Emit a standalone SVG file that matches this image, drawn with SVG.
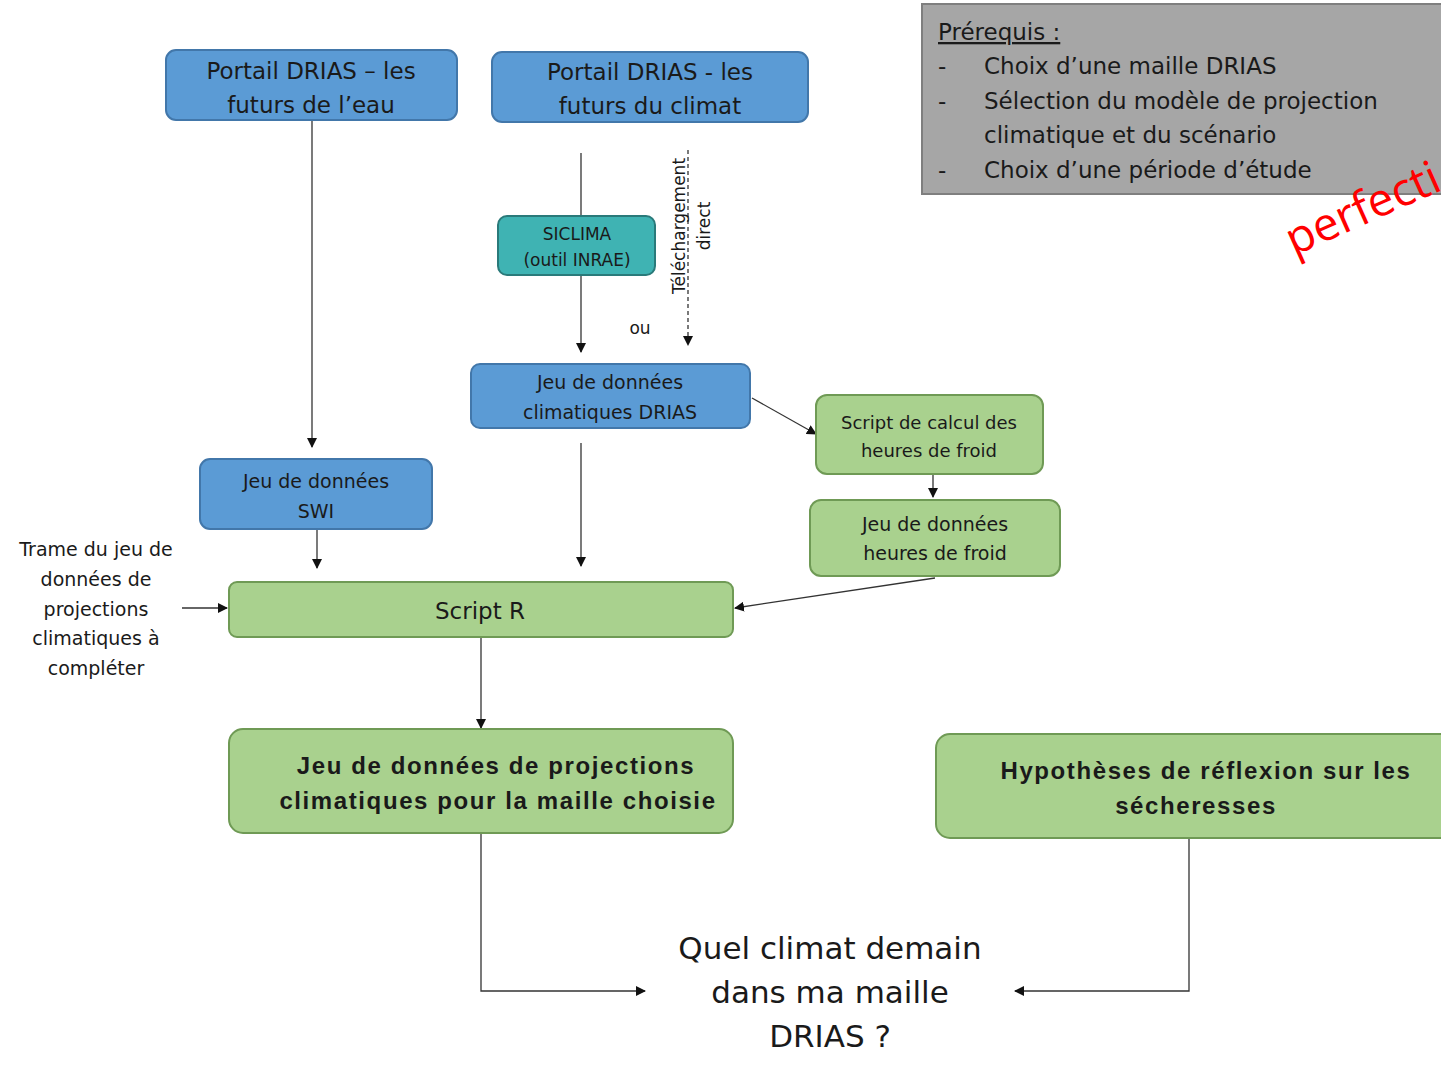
<svg xmlns="http://www.w3.org/2000/svg" width="1441" height="1067" viewBox="0 0 1441 1067">
<defs>
<marker id="ahs" viewBox="0 0 10 10" refX="9" refY="5" markerWidth="10" markerHeight="10" orient="auto" markerUnits="userSpaceOnUse">
<path d="M0,0 L10,5 L0,10 z" fill="#111"/>
</marker>
</defs>
<style>
text{font-family:"DejaVu Sans","Liberation Sans",sans-serif;fill:#1a1a1a}
.blue{fill:#5b9bd5;stroke:#4277aa;stroke-width:2}
.green{fill:#a9d18e;stroke:#6f9a55;stroke-width:2}
.teal{fill:#3fb3b3;stroke:#2a7a7a;stroke-width:2}
.c{stroke:#333;stroke-width:1.3;fill:none;marker-end:url(#ahs)}
.t24{font-size:23px;text-anchor:middle}
.t20{font-size:19px;text-anchor:middle}
.t18{font-size:17px;text-anchor:middle}
.b{font-family:"Liberation Sans",Arial,sans-serif;font-weight:bold;letter-spacing:1.6px;font-size:24px}
</style>
<rect width="1441" height="1067" fill="#ffffff"/>

<g id="prerequis">
<rect x="922" y="4" width="525" height="190" fill="#a6a6a6" stroke="#7f7f7f" stroke-width="2"/>
<text x="938" y="40" font-size="23" text-decoration="underline">Prérequis :</text>
<text x="938" y="74" font-size="23">-</text>
<text x="984" y="74" font-size="23">Choix d’une maille  DRIAS</text>
<text x="938" y="109" font-size="23">-</text>
<text x="984" y="109" font-size="23">Sélection du modèle de projection</text>
<text x="984" y="143" font-size="23">climatique et du scénario</text>
<text x="938" y="178" font-size="23">-</text>
<text x="984" y="178" font-size="23">Choix d’une période d’étude</text>
</g>

<text x="1294" y="256" font-size="46" style="fill:#ff0000;font-family:'Open Sans','Liberation Sans',sans-serif" transform="rotate(-24 1294 256)">perfecti</text>

<g id="connectors">
<line class="c" x1="312" y1="121" x2="312" y2="447"/>
<line class="c" x1="581" y1="153" x2="581" y2="352"/>
<line class="c" x1="688" y1="150" x2="688" y2="345" stroke-dasharray="4,3"/>
<line class="c" x1="752" y1="398" x2="816" y2="434"/>
<line class="c" x1="933" y1="475" x2="933" y2="497"/>
<line class="c" x1="935" y1="578" x2="735" y2="608"/>
<line class="c" x1="581" y1="443" x2="581" y2="566"/>
<line class="c" x1="317" y1="530" x2="317" y2="568"/>
<line class="c" x1="182" y1="608" x2="227" y2="608"/>
<line class="c" x1="481" y1="638" x2="481" y2="728"/>
<polyline class="c" points="481,834 481,991 645,991"/>
<polyline class="c" points="1189,839 1189,991 1015,991"/>
</g>

<g id="portail-eau">
<rect class="blue" x="166" y="50" width="291" height="70" rx="10"/>
<text class="t24" x="311" y="79">Portail DRIAS  – les</text>
<text class="t24" x="311" y="113">futurs de l’eau</text>
</g>

<g id="portail-climat">
<rect class="blue" x="492" y="52" width="316" height="70" rx="10"/>
<text class="t24" x="650" y="80">Portail DRIAS  - les</text>
<text class="t24" x="650" y="114">futurs du climat</text>
</g>

<g id="siclima">
<rect class="teal" x="498" y="216" width="157" height="59" rx="9"/>
<text class="t18" x="577" y="240">SICLIMA</text>
<text class="t18" x="577" y="266">(outil INRAE)</text>
</g>

<g id="telechargement">
<text class="t18" transform="translate(685,226) rotate(-90)">Téléchargement</text>
<text class="t18" transform="translate(710,226) rotate(-90)">direct</text>
</g>
<text x="640" y="334" font-size="17" text-anchor="middle">ou</text>

<g id="jeu-drias">
<rect class="blue" x="471" y="364" width="279" height="64" rx="9"/>
<text class="t20" x="610" y="389">Jeu de données</text>
<text class="t20" x="610" y="419">climatiques DRIAS</text>
</g>

<g id="script-froid">
<rect class="green" x="816" y="395" width="227" height="79" rx="11"/>
<text class="t20" x="929" y="429" style="font-size:18px">Script de calcul des</text>
<text class="t20" x="929" y="457" style="font-size:18px">heures de froid</text>
</g>

<g id="jeu-froid">
<rect class="green" x="810" y="500" width="250" height="76" rx="11"/>
<text class="t20" x="935" y="531">Jeu de données</text>
<text class="t20" x="935" y="560">heures de froid</text>
</g>

<g id="jeu-swi">
<rect class="blue" x="200" y="459" width="232" height="70" rx="10"/>
<text class="t20" x="316" y="488">Jeu de données</text>
<text class="t20" x="316" y="518">SWI</text>
</g>

<g id="trame">
<text class="t20" x="96" y="556">Trame du jeu de</text>
<text class="t20" x="96" y="586">données de</text>
<text class="t20" x="96" y="616">projections</text>
<text class="t20" x="96" y="645">climatiques à</text>
<text class="t20" x="96" y="675">compléter</text>
</g>

<g id="script-r">
<rect class="green" x="229" y="582" width="504" height="55" rx="8"/>
<text class="t24" x="480" y="619">Script R</text>
</g>

<g id="jeu-projections">
<rect class="green" x="229" y="729" width="504" height="104" rx="14"/>
<text class="t24 b" x="496" y="774">Jeu de données de projections</text>
<text class="t24 b" x="498" y="809">climatiques pour la maille choisie</text>
</g>

<g id="hypotheses">
<rect class="green" x="936" y="734" width="520" height="104" rx="14"/>
<text class="t24 b" x="1206" y="779">Hypothèses de réflexion sur les</text>
<text class="t24 b" x="1196" y="814">sécheresses</text>
</g>

<g id="question">
<text x="830" y="959" font-size="31" text-anchor="middle">Quel climat demain</text>
<text x="830" y="1003" font-size="31" text-anchor="middle">dans ma maille</text>
<text x="830" y="1047" font-size="31" text-anchor="middle">DRIAS ?</text>
</g>
</svg>
